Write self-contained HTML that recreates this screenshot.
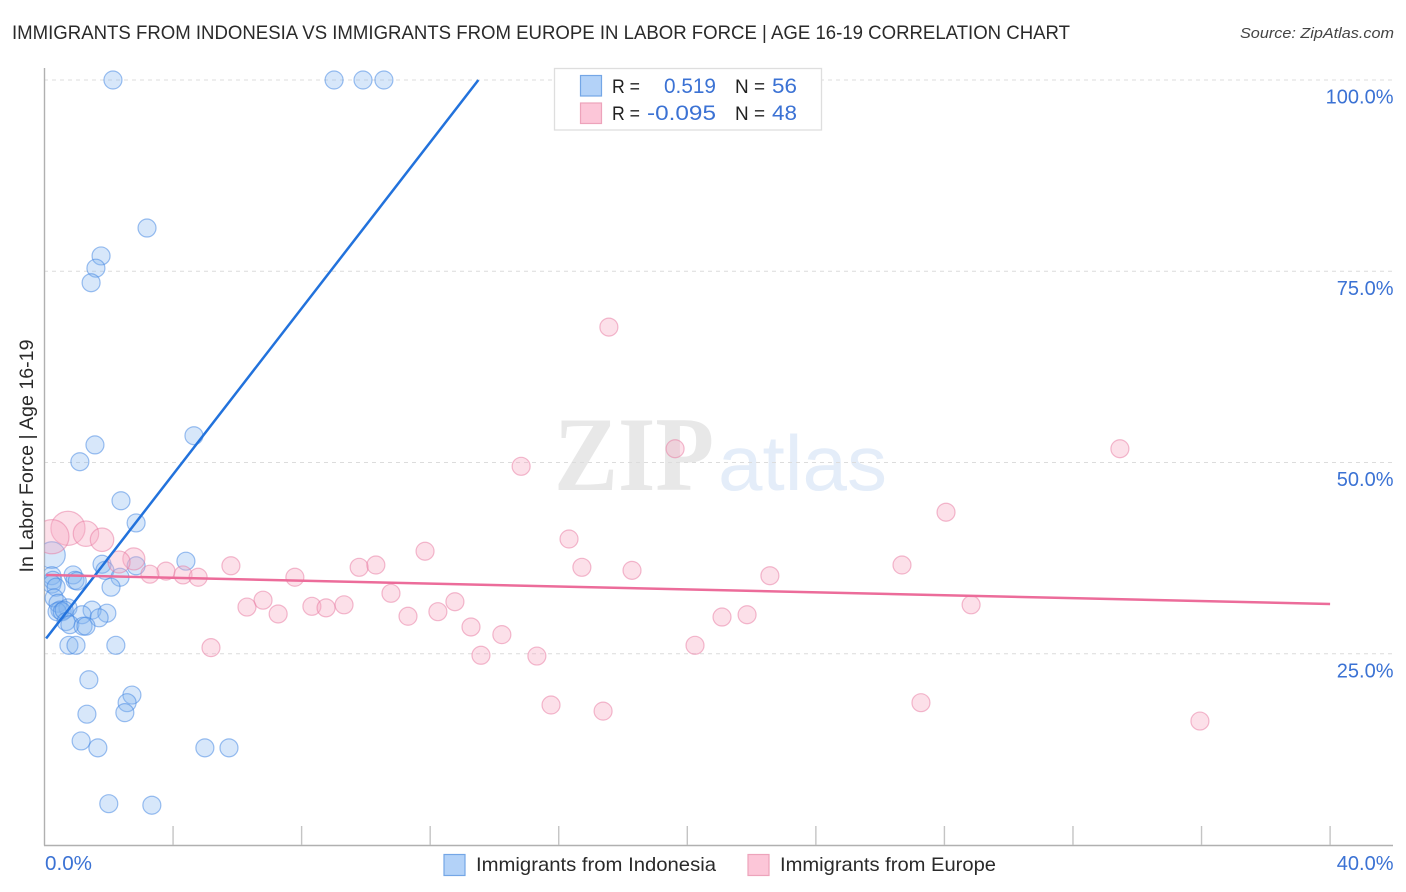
<!DOCTYPE html>
<html lang="en">
<head>
<meta charset="utf-8">
<title>Immigrants from Indonesia vs Immigrants from Europe in Labor Force | Age 16-19 Correlation Chart</title>
<style>
html,body{margin:0;padding:0;background:#fff;}
svg{display:block;font-family:"Liberation Sans",sans-serif;}
</style>
</head>
<body>
<svg id="chart" width="1406" height="892" viewBox="0 0 1406 892" xmlns="http://www.w3.org/2000/svg">
  <defs>
    <clipPath id="plot-clip"><rect x="44.5" y="60" width="1350" height="786"/></clipPath>
  </defs>
  <text x="12" y="39" font-size="19.5" fill="#2a2a2a" textLength="1058" lengthAdjust="spacingAndGlyphs">IMMIGRANTS FROM INDONESIA VS IMMIGRANTS FROM EUROPE IN LABOR FORCE | AGE 16-19 CORRELATION CHART</text>
  <text x="1394" y="38" font-size="15" font-style="italic" fill="#444" text-anchor="end" textLength="154" lengthAdjust="spacingAndGlyphs">Source: ZipAtlas.com</text>
  <g>
    <text x="554" y="490" font-family="'Liberation Serif',serif" font-weight="bold" font-size="106" fill="#e8e8e8" textLength="160" lengthAdjust="spacingAndGlyphs">ZIP</text>
    <text x="718" y="490" font-size="78" fill="#e4edf9" textLength="169" lengthAdjust="spacingAndGlyphs">atlas</text>
  </g>
  <g id="grid"></g>
  <g id="axes"></g>
  <text transform="translate(33,456) rotate(-90)" font-size="19" fill="#2a2a2a" text-anchor="middle" textLength="233" lengthAdjust="spacingAndGlyphs">In Labor Force | Age 16-19</text>
  <g id="series-blue" clip-path="url(#plot-clip)"></g>
  <g id="series-pink" clip-path="url(#plot-clip)"></g>
  <g id="trends"></g>
  <g>
    <rect x="554.5" y="68.5" width="267" height="61.5" fill="#fff" stroke="#dedede" stroke-width="1.3"/>
    <rect x="580.5" y="75.5" width="21" height="20.5" fill="#b3d2f8" stroke="#74a6e6" stroke-width="1.2"/>
    <rect x="580.5" y="103" width="21" height="20.5" fill="#fcc6d8" stroke="#eda3bb" stroke-width="1.2"/>
    <text x="612" y="93" font-size="19.5" fill="#222" textLength="28" lengthAdjust="spacingAndGlyphs">R =</text>
    <text x="664" y="93" font-size="21" fill="#3b72d4" textLength="52" lengthAdjust="spacingAndGlyphs">0.519</text>
    <text x="735" y="93" font-size="19.5" fill="#222" textLength="30" lengthAdjust="spacingAndGlyphs">N =</text>
    <text x="772" y="93" font-size="21" fill="#3b72d4" textLength="25" lengthAdjust="spacingAndGlyphs">56</text>
    <text x="612" y="120" font-size="19.5" fill="#222" textLength="28" lengthAdjust="spacingAndGlyphs">R =</text>
    <text x="647" y="120" font-size="21" fill="#3b72d4" textLength="69" lengthAdjust="spacingAndGlyphs">-0.095</text>
    <text x="735" y="120" font-size="19.5" fill="#222" textLength="30" lengthAdjust="spacingAndGlyphs">N =</text>
    <text x="772" y="120" font-size="21" fill="#3b72d4" textLength="25" lengthAdjust="spacingAndGlyphs">48</text>
  </g>
  <g>
    <rect x="444" y="854.5" width="21" height="21" fill="#b3d2f8" stroke="#74a6e6" stroke-width="1.2"/>
    <text x="476" y="871" font-size="19.5" fill="#2a2a2a" textLength="240" lengthAdjust="spacingAndGlyphs">Immigrants from Indonesia</text>
    <rect x="748" y="854.5" width="21" height="21" fill="#fcc6d8" stroke="#eda3bb" stroke-width="1.2"/>
    <text x="780" y="871" font-size="19.5" fill="#2a2a2a" textLength="216" lengthAdjust="spacingAndGlyphs">Immigrants from Europe</text>
  </g>
</svg>
<script>
// Data (x = share of immigrants %, y = in labor force %)
const yTickValues = [100, 75, 50, 25];
const yTickLabels = ["100.0%", "75.0%", "50.0%", "25.0%"];
const xTickValues = [4, 8, 12, 16, 20, 24, 28, 32, 36, 40];
const xEndLabels = ["0.0%", "40.0%"];

const blueX = [2.13,9.01,9.91,10.56,3.19,1.76,1.60,1.45,4.65,1.57,1.10,2.38,2.85,0.23,4.40,1.79,2.85,1.88,0.89,0.23,2.35,0.95,0.26,1.02,0.23,0.36,2.07,0.30,0.42,1.48,0.73,0.48,1.94,0.39,0.55,0.61,1.17,1.70,0.67,0.79,1.20,1.29,0.76,0.98,2.22,1.38,2.72,2.57,2.50,1.32,1.14,1.66,4.99,5.74,2.00,3.34];
const blueY = [100,100,100,100,80.65,77.0,75.4,73.5,53.5,52.3,50.1,45.0,42.1,37.9,37.1,36.7,36.5,35.9,35.3,35.2,35.0,34.6,34.6,34.5,34.1,33.7,33.7,32.3,31.6,30.7,31.0,30.7,30.3,30.5,30.5,30.7,30.1,29.7,29.2,28.8,28.6,28.6,26.1,26.1,26.1,21.6,19.6,18.6,17.3,17.1,13.6,12.7,12.7,12.7,5.4,5.2];
const blueWeight = [1,1,1,1,1,1,1,1,1,1,1,1,1,2.2,1,1,1,1,1,1,1,1,1,1,1,1,1,1,1,1,1,1,1,1,1,1,1,1,1,1,1,1,1,1,1,1,1,1,1,1,1,1,1,1,1,1];

const pinkX = [17.56,33.46,19.62,14.83,28.05,16.32,0.73,1.29,0.23,1.79,11.84,2.78,2.32,5.80,9.79,10.31,16.72,18.28,26.68,3.78,3.28,4.31,4.78,7.79,22.57,10.78,6.80,12.77,28.83,6.30,8.32,8.76,9.32,12.24,7.27,11.31,21.08,21.86,13.27,14.23,5.18,20.24,13.58,15.32,15.76,17.38,27.27,35.95];
const pinkY = [67.7,51.8,51.8,49.5,43.5,40.0,41.4,40.7,40.3,39.9,38.4,37.4,37.0,36.5,36.3,36.6,36.3,35.9,36.6,35.8,35.4,35.3,35.0,35.0,35.2,32.9,32.0,31.8,31.4,31.1,31.2,31.0,31.4,30.5,30.2,29.9,29.8,30.1,28.5,27.5,25.8,26.1,24.8,24.7,18.3,17.5,18.6,16.2];
const pinkWeight = [1,1,1,1,1,1,3.6,2.0,3.6,1.7,1,1.5,1.5,1,1,1,1,1,1,1,1,1,1,1,1,1,1,1,1,1,1,1,1,1,1,1,1,1,1,1,1,1,1,1,1,1,1,1];

const blueTrendX = [0.05, 13.5];
const blueTrendY = [27.0, 100];
const pinkTrendX = [0.05, 40];
const pinkTrendY = [35.3, 31.5];

// Axis functions
function xScale(v){ return 44.5 + v * 32.14; }
function yScale(v){ return 845 - v * 7.65; }
function rScale(w){ return 9 * Math.sqrt(w); }

const NS = "http://www.w3.org/2000/svg";
function mk(tag, parent, attrs, txt){
  const el = document.createElementNS(NS, tag);
  for (const k in attrs) el.setAttribute(k, attrs[k]);
  if (txt !== undefined) el.textContent = txt;
  parent.appendChild(el);
  return el;
}

const grid = document.getElementById("grid");
const axes = document.getElementById("axes");

yTickValues.forEach(function(v, i){
  const gl = mk("line", grid, {x1:44, x2:1393, y1:yScale(v), y2:yScale(v), stroke:"#dcdcdc", "stroke-width":1, "stroke-dasharray":"4 4"});
  
  
  const lb = mk("text", axes, {x:1393.5, y:yScale(v) + 23.5, "font-size":20, fill:"#3b72d4", "text-anchor":"end"}, yTickLabels[i]);
  
  
});

const yAxis = mk("line", axes, {x1:44.5, x2:44.5, y1:68, y2:845.5, stroke:"#b0b0b0", "stroke-width":1.4});


const xAxis = mk("line", axes, {x1:44, x2:1393, y1:845.5, y2:845.5, stroke:"#b0b0b0", "stroke-width":1.4});



xTickValues.forEach(function(v){
  const t = mk("line", axes, {x1:xScale(v), x2:xScale(v), y1:826, y2:845, stroke:"#c4c4c4", "stroke-width":1.4});
  
  
});

const xl0 = mk("text", axes, {x:45, y:870, "font-size":20, fill:"#3b72d4", textLength:47, lengthAdjust:"spacingAndGlyphs"}, xEndLabels[0]);


const xl1 = mk("text", axes, {x:1393.5, y:870, "font-size":20, fill:"#3b72d4", "text-anchor":"end"}, xEndLabels[1]);



const gBlue = document.getElementById("series-blue");
blueX.forEach(function(x, i){
  const c = mk("circle", gBlue, {cx:xScale(x), cy:yScale(blueY[i]), r:rScale(blueWeight[i]), fill:"rgba(130,180,240,0.32)", stroke:"rgba(60,130,225,0.5)", "stroke-width":1.2});
  
  
});

const gPink = document.getElementById("series-pink");
pinkX.forEach(function(x, i){
  const c = mk("circle", gPink, {cx:xScale(x), cy:yScale(pinkY[i]), r:rScale(pinkWeight[i]), fill:"rgba(248,170,195,0.36)", stroke:"rgba(232,120,160,0.5)", "stroke-width":1.2});
  
  
});

const gTrend = document.getElementById("trends");
const lineBlue = mk("line", gTrend, {x1:xScale(blueTrendX[0]), y1:yScale(blueTrendY[0]), x2:xScale(blueTrendX[1]), y2:yScale(blueTrendY[1]), stroke:"#2272dc", "stroke-width":2.5});


const linePink = mk("line", gTrend, {x1:xScale(pinkTrendX[0]), y1:yScale(pinkTrendY[0]), x2:xScale(pinkTrendX[1]), y2:yScale(pinkTrendY[1]), stroke:"#ec6c9a", "stroke-width":2.5});


</script>
</body>
</html>
